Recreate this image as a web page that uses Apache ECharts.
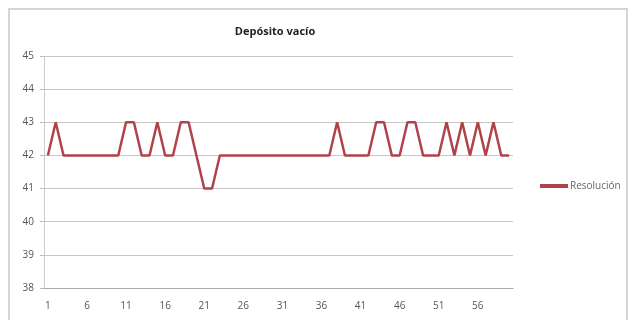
<!DOCTYPE html>
<html lang="es">
<head>
    <meta charset="utf-8">
    <title>Depósito vacío</title>
    <script src="https://cdnjs.cloudflare.com/ajax/libs/echarts/6.0.0/echarts.min.js"></script>
    <style>
        html, body {margin: 0; padding: 0; background: #fff;}
    </style>
</head>
<body>
<div id="chart" style="width: 631px;height:320px;"></div>
<script type="application/javascript">
    // datos
    var muestras = [];
    for (var i = 1; i <= 60; i++) muestras.push(String(i));
    var resolucion = [
        42, 43, 42, 42, 42, 42, 42, 42, 42, 42,
        43, 43, 42, 42, 43, 42, 42, 43, 43, 42,
        41, 41, 42, 42, 42, 42, 42, 42, 42, 42,
        42, 42, 42, 42, 42, 42, 42, 43, 42, 42,
        42, 42, 43, 43, 42, 42, 43, 43, 42, 42,
        42, 43, 42, 43, 42, 43, 42, 43, 42, 42
    ];
    var ejeY = {min: 38, max: 45, interval: 1};

    var chart = echarts.init(document.getElementById('chart'));

    var option = {
        animation: false,
        textStyle: {fontFamily: 'Open Sans'},
        graphic: [{
            type: 'rect',
            shape: {x: 9, y: 9, width: 618, height: 330},
            style: {fill: 'none', stroke: '#d4d4d4', lineWidth: 2}
        }],
        title: {
            text: 'Depósito vacío',
            left: 270,
            top: 21,
            textAlign: 'center',
            textStyle: {fontSize: 11, fontWeight: 'bold', color: '#222'}
        },
        legend: {
            data: ['Resolución'],
            left: 535,
            top: 176,
            itemWidth: 28,
            itemHeight: 4,
            itemGap: 2,
            icon: 'rect',
            textStyle: {fontSize: 10, color: '#666', padding: [0, 0, 0, -3]}
        },
        grid: {left: 44, right: 118, top: 56, bottom: 32},
        xAxis: {
            type: 'category',
            data: muestras,
            boundaryGap: true,
            axisLine: {lineStyle: {color: '#aaa'}},
            axisTick: {interval: 0, length: 3, lineStyle: {color: '#aaa'}},
            axisLabel: {interval: 4, fontSize: 10, color: '#555', margin: 13}
        },
        yAxis: {
            type: 'value',
            min: ejeY.min,
            max: ejeY.max,
            interval: ejeY.interval,
            axisLine: {show: true, lineStyle: {color: '#ccc'}},
            axisTick: {show: true, length: 4, lineStyle: {color: '#bbb'}},
            axisLabel: {fontSize: 10, color: '#555', margin: 10},
            splitLine: {lineStyle: {color: '#c8c8c8', width: 1.2}}
        },
        series: [{
            name: 'Resolución',
            type: 'line',
            data: resolucion,
            symbol: 'none',
            lineStyle: {color: '#b0434a', width: 2.5},
            itemStyle: {color: '#b0434a'}
        }]
    };

    chart.setOption(option);
</script>
</body>
</html>
